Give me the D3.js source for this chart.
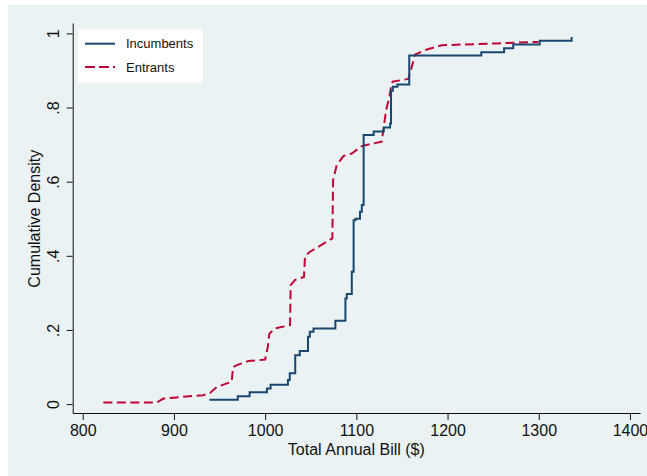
<!DOCTYPE html>
<html>
<head>
<meta charset="utf-8">
<script src="https://cdn.jsdelivr.net/npm/d3@7"></script>
<style>
  body { margin: 0; background: #fff; }
  text { font-family: "Liberation Sans", Arial, sans-serif; fill: #111; }
</style>
</head>
<body>
<div class="chart"></div>
<script>
// Data: bill amount ($) and cumulative density
const incBill = [939, 970, 983, 1002, 1006, 1025, 1027, 1033, 1038, 1047, 1049, 1053, 1077, 1088, 1089.5,
    1095, 1097, 1099, 1104, 1106, 1108, 1119, 1130, 1137, 1138, 1140, 1145, 1158, 1237, 1262, 1272, 1301, 1336];
const incCum = [0.012, 0.021, 0.032, 0.042, 0.052, 0.065, 0.083, 0.132, 0.143, 0.182, 0.195, 0.204, 0.225, 0.285, 0.297,
    0.357, 0.496, 0.50, 0.519, 0.537, 0.726, 0.735, 0.746, 0.757, 0.845, 0.856, 0.862, 0.94, 0.949, 0.96, 0.97, 0.98, 0.99];

const entBill = [822.6, 881, 888.4, 903, 921, 932, 939.6, 947, 958, 963.3, 964.8, 969, 981.6, 1000, 1003, 1004.6,
    1010.9, 1027.3, 1028, 1032.8, 1042.6, 1043.7, 1049.2, 1058.3, 1067.5, 1073.7, 1074.5, 1078.5, 1085.8, 1095,
    1106, 1115, 1127.8, 1129.6, 1132.6, 1136.3, 1138, 1139.9, 1157, 1161.8, 1164.4, 1175.3, 1193.6, 1254, 1299.6];
const entCum = [0.004, 0.004, 0.015, 0.018, 0.022, 0.024, 0.03, 0.046, 0.056, 0.06, 0.1, 0.105, 0.116, 0.12, 0.155, 0.19,
    0.204, 0.213, 0.321, 0.335, 0.343, 0.399, 0.411, 0.424, 0.438, 0.447, 0.604, 0.645, 0.669, 0.676,
    0.696, 0.701, 0.708, 0.739, 0.793, 0.829, 0.856, 0.87, 0.877, 0.919, 0.943, 0.955, 0.968, 0.973, 0.977];

const xTicks = [800, 900, 1000, 1100, 1200, 1300, 1400];
const yTicks = [0, 0.2, 0.4, 0.6, 0.8, 1];
const seriesNames = ['Incumbents', 'Entrants'];

const incumbents = incBill.map((d, i) => ({x: d, y: incCum[i]}));
const entrants = entBill.map((d, i) => ({x: d, y: entCum[i]}));

// Dimensions
const dimensions = {
    width: 647,
    height: 476,
    left: 72.7,
    right: 640,
    top: 23,
    bottom: 413
};

const blue = '#1a476f';
const red = '#c10534';

const svg = d3.select('.chart')
    .append('svg')
    .attr('width', dimensions.width)
    .attr('height', dimensions.height);

// background (stata-ish)
svg.append('rect')
    .attr('x', 8).attr('y', 5)
    .attr('width', dimensions.width - 8)
    .attr('height', dimensions.height - 5)
    .attr('fill', '#eaf2f3');

// Scales
const xScale = d3.scaleLinear()
    .domain([789, 1411])
    .range([dimensions.left, dimensions.right]);

const yScale = d3.scaleLinear()
    .domain([-0.024, 1.028])
    .range([dimensions.bottom, dimensions.top]);

// Lines
const stepLine = d3.line()
    .x(d => xScale(d.x))
    .y(d => yScale(d.y))
    .curve(d3.curveStepAfter);

const plainLine = d3.line()
    .x(d => xScale(d.x))
    .y(d => yScale(d.y));

svg.append('path')
    .datum(entrants)
    .attr('d', plainLine)
    .attr('fill', 'none')
    .attr('stroke', red)
    .attr('stroke-width', 2)
    .attr('stroke-dasharray', '9,4.5');

svg.append('path')
    .datum(incumbents)
    .attr('d', stepLine)
    .attr('fill', 'none')
    .attr('stroke', blue)
    .attr('stroke-width', 2);

// Axis
const xAxis = d3.axisBottom(xScale)
    .tickValues(xTicks)
    .tickSize(7)
    .tickSizeOuter(0)
    .tickPadding(5)
    .tickFormat(d3.format('d'));

const xAxisGroup = svg.append('g')
    .attr('transform', `translate(0, ${dimensions.bottom})`)
    .call(xAxis);
xAxisGroup.selectAll('text').style('font-size', '16px').attr('fill', '#111');
xAxisGroup.selectAll('line, path').attr('stroke', '#111');

const yFormat = d => d === 0 ? '0' : d === 1 ? '1' : d3.format('.1f')(d).replace(/^0/, '');
const yAxis = d3.axisLeft(yScale)
    .tickValues(yTicks)
    .tickSize(6)
    .tickSizeOuter(0)
    .tickFormat(yFormat);

const yAxisGroup = svg.append('g')
    .attr('transform', `translate(${dimensions.left}, 0)`)
    .call(yAxis);
yAxisGroup.selectAll('line, path').attr('stroke', '#111');
yAxisGroup.selectAll('text')
    .style('font-size', '16px')
    .attr('fill', '#111')
    .attr('x', 0).attr('dy', null)
    .attr('text-anchor', 'middle')
    .attr('transform', 'translate(-18, 0) rotate(-90)')
    .attr('y', 0)
    .attr('dominant-baseline', 'middle');

// Axis titles
svg.append('text')
    .attr('x', (xScale(800) + xScale(1400)) / 2)
    .attr('y', 455)
    .attr('text-anchor', 'middle')
    .style('font-size', '16px')
    .text('Total Annual Bill ($)');

svg.append('text')
    .attr('transform', `translate(40, ${(yScale(0) + yScale(1)) / 2}) rotate(-90)`)
    .attr('text-anchor', 'middle')
    .style('font-size', '16px')
    .text('Cumulative Density');

// Legend
const legendGroup = svg.append('g')
    .attr('transform', 'translate(78.3, 29.3)');

legendGroup.append('rect')
    .attr('width', 124.4)
    .attr('height', 53.4)
    .attr('fill', '#fff');

const legendItems = legendGroup.selectAll('g.item')
    .data(seriesNames)
    .join('g')
    .attr('class', 'item')
    .attr('transform', (d, i) => `translate(0, ${14.4 + i * 23.3})`);

legendItems.append('line')
    .attr('x1', 6.7).attr('x2', 36.7)
    .attr('stroke', (d, i) => i === 0 ? blue : red)
    .attr('stroke-width', 2)
    .attr('stroke-dasharray', (d, i) => i === 0 ? null : '10,4');

legendItems.append('text')
    .attr('x', 47.7)
    .attr('dy', '0.35em')
    .style('font-size', '13px')
    .text(d => d);
</script>
</body>
</html>
